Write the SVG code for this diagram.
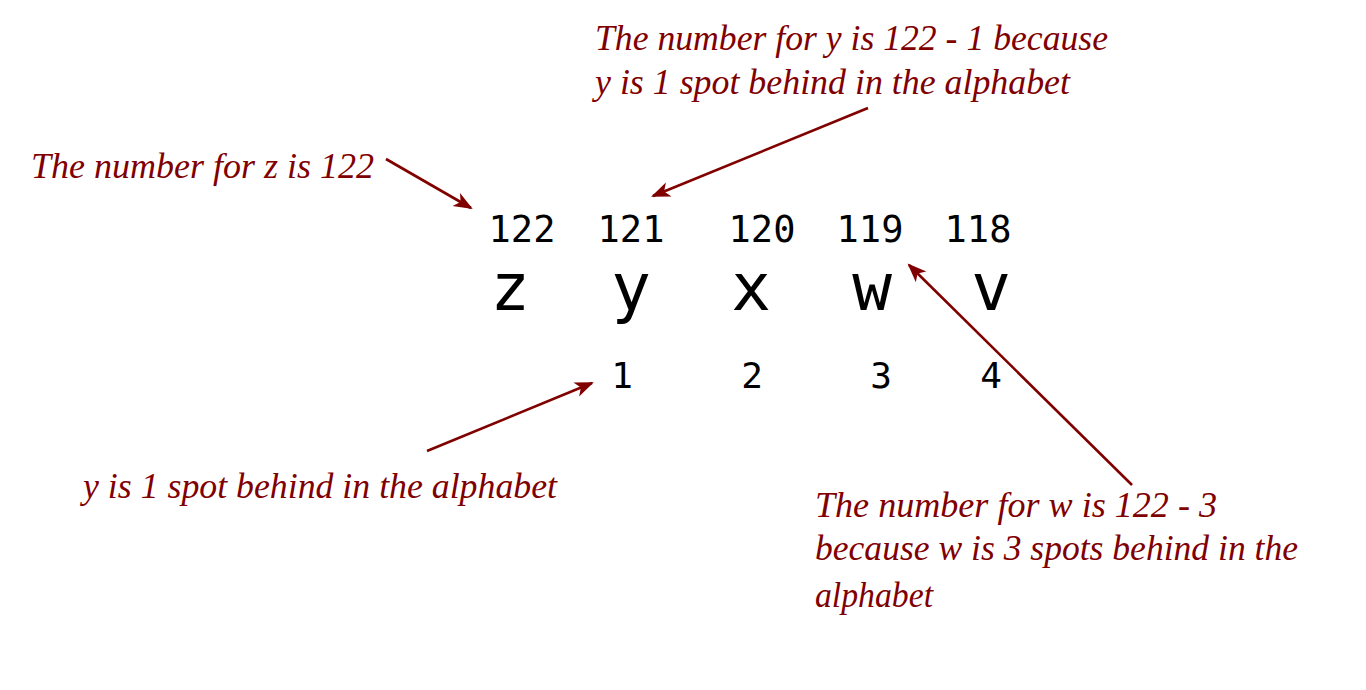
<svg xmlns="http://www.w3.org/2000/svg" width="1366" height="690" viewBox="0 0 1366 690">
<style>
.note{font-family:"Liberation Serif","DejaVu Serif",serif;font-style:italic;font-size:35px;fill:#800000}
.num{font-family:"DejaVu Sans Mono","Liberation Mono",monospace;font-size:37px;fill:#000;text-anchor:middle}
.let{font-family:"DejaVu Sans Mono","Liberation Mono",monospace;font-size:66px;fill:#000;text-anchor:middle}
.idx{font-family:"DejaVu Sans Mono","Liberation Mono",monospace;font-size:36px;fill:#000;text-anchor:middle}
.arrow{stroke:#800000;stroke-width:2.6;fill:none;marker-end:url(#ah)}
</style>
<defs>
<marker id="ah" markerUnits="userSpaceOnUse" markerWidth="22" markerHeight="18" viewBox="0 -9 22 18" refX="17" refY="0" orient="auto">
<path d="M0,-7.5 L19,0 L0,7.5 L5,0 Z" fill="#800000"/>
</marker>
</defs>
<rect width="1366" height="690" fill="#fff"/>
<g id="letters">
<text class="let" x="510" y="310">z</text>
<text class="let" x="631" y="310">y</text>
<text class="let" x="751" y="310">x</text>
<text class="let" x="872" y="310">w</text>
<text class="let" x="991" y="310">v</text>
</g>
<g id="codes">
<text class="num" x="522" y="242">122</text>
<text class="num" x="631" y="242">121</text>
<text class="num" x="762" y="242">120</text>
<text class="num" x="870" y="242">119</text>
<text class="num" x="978" y="242">118</text>
</g>
<g id="offsets">
<text class="idx" x="622" y="388">1</text>
<text class="idx" x="752" y="388">2</text>
<text class="idx" x="881" y="388">3</text>
<text class="idx" x="991" y="388">4</text>
</g>
<g id="note-z">
<text class="note" x="31" y="178" textLength="343" lengthAdjust="spacingAndGlyphs">The number for z is 122</text>
</g>
<g id="note-y">
<text class="note" x="595" y="50" textLength="513" lengthAdjust="spacingAndGlyphs">The number for y is 122 - 1 because</text>
<text class="note" x="595" y="94" textLength="475" lengthAdjust="spacingAndGlyphs">y is 1 spot behind in the alphabet</text>
</g>
<g id="note-offset">
<text class="note" x="83" y="498" textLength="474" lengthAdjust="spacingAndGlyphs">y is 1 spot behind in the alphabet</text>
</g>
<g id="note-w">
<text class="note" x="815" y="517" textLength="402" lengthAdjust="spacingAndGlyphs">The number for w is 122 - 3</text>
<text class="note" x="815" y="560" textLength="483" lengthAdjust="spacingAndGlyphs">because w is 3 spots behind in the</text>
<text class="note" x="815" y="607" textLength="118" lengthAdjust="spacingAndGlyphs">alphabet</text>
</g>
<g id="connectors">
<path class="arrow" d="M386,159 L471,208"/>
<path class="arrow" d="M868,108 L653,196"/>
<path class="arrow" d="M427,451 L592,383"/>
<path class="arrow" d="M1132,485 L909,265"/>
</g>
</svg>
